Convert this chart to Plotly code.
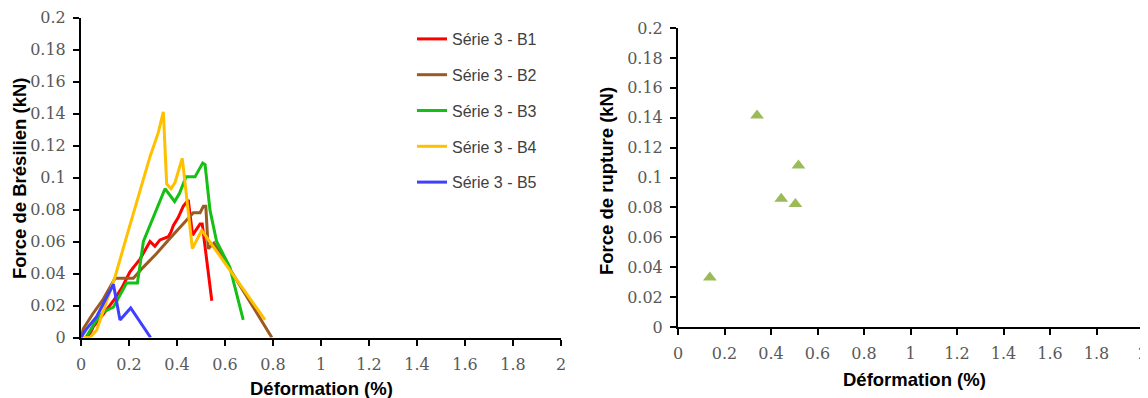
import plotly.graph_objects as go

# ---- data ----
series_names = ["Série 3 - B1", "Série 3 - B2", "Série 3 - B3", "Série 3 - B4", "Série 3 - B5"]
series_colors = ["#FF0000", "#9A5B22", "#14C014", "#FFC000", "#3F3FFF"]

b1_x = [0.03, 0.051, 0.09, 0.135, 0.17, 0.204, 0.246, 0.2875, 0.308, 0.329, 0.364, 0.375, 0.385, 0.405, 0.426, 0.447, 0.465, 0.496, 0.505, 0.545]
b1_y = [0, 0.0066, 0.014, 0.023, 0.031, 0.041, 0.049, 0.06, 0.057, 0.061, 0.063, 0.066, 0.070, 0.075, 0.082, 0.086, 0.064, 0.071, 0.071, 0.023]

b2_x = [0, 0.01, 0.05, 0.093, 0.142, 0.218, 0.26, 0.315, 0.371, 0.433, 0.468, 0.496, 0.51, 0.52, 0.53, 0.554, 0.795]
b2_y = [0, 0.0056, 0.015, 0.024, 0.037, 0.037, 0.044, 0.0525, 0.062, 0.072, 0.078, 0.078, 0.082, 0.082, 0.0556, 0.059, 0]

b3_x = [0.02, 0.065, 0.093, 0.135, 0.19, 0.235, 0.26, 0.35, 0.39, 0.41, 0.4375, 0.475, 0.507, 0.517, 0.5375, 0.565, 0.62, 0.676]
b3_y = [0, 0.011, 0.016, 0.019, 0.034, 0.034, 0.06, 0.093, 0.085, 0.09, 0.1004, 0.1004, 0.109, 0.108, 0.0796, 0.06, 0.044, 0.011]

b4_x = [0, 0.037, 0.065, 0.1, 0.142, 0.19, 0.232, 0.2875, 0.322, 0.343, 0.357, 0.375, 0.392, 0.422, 0.464, 0.503, 0.767]
b4_y = [0, 0, 0.0046, 0.02, 0.038, 0.063, 0.084, 0.113, 0.128, 0.141, 0.096, 0.093, 0.097, 0.112, 0.0556, 0.067, 0.011]

b5_x = [0, 0.024, 0.065, 0.107, 0.135, 0.1625, 0.207, 0.29]
b5_y = [0, 0.0056, 0.013, 0.025, 0.0333, 0.011, 0.0185, 0]

rupture_x = [0.137, 0.34, 0.444, 0.505, 0.518]
rupture_y = [0.0331, 0.1414, 0.0858, 0.0822, 0.108]

x_ticks = [0, 0.2, 0.4, 0.6, 0.8, 1, 1.2, 1.4, 1.6, 1.8, 2]
y_ticks = [0, 0.02, 0.04, 0.06, 0.08, 0.1, 0.12, 0.14, 0.16, 0.18, 0.2]

W, H = 1148, 398
OFF = 8  # page body margin offset


def px(p):
    return (p - OFF) / W


def py(p):
    return (H - (p - OFF)) / H


fig = go.Figure()

all_x = [b1_x, b2_x, b3_x, b4_x, b5_x]
all_y = [b1_y, b2_y, b3_y, b4_y, b5_y]
for nm, col, xs, ys in zip(series_names, series_colors, all_x, all_y):
    fig.add_trace(go.Scatter(x=xs, y=ys, mode="lines", name=nm, legendgroup=nm,
                             line=dict(color=col, width=3), xaxis="x", yaxis="y"))

fig.add_trace(go.Scatter(x=rupture_x, y=rupture_y, mode="markers", showlegend=False,
                         marker=dict(symbol="triangle-up", size=12, color="#9BBB59"),
                         xaxis="x2", yaxis="y2"))

tickfont = dict(family="DejaVu Serif", size=16, color="#595959")
common_x = dict(range=[0, 2], tickvals=x_ticks, ticktext=[str(t) for t in x_ticks],
                showline=True, linecolor="black", linewidth=2, ticks="outside",
                ticklen=6, tickwidth=2, tickcolor="black", showgrid=False,
                zeroline=False, tickfont=tickfont, fixedrange=True, automargin=False,
                ticklabelstandoff=5)
common_y = dict(range=[0, 0.2], tickvals=y_ticks, ticktext=[str(t) for t in y_ticks],
                showline=True, linecolor="black", linewidth=2, ticks="outside",
                ticklen=6, tickwidth=2, tickcolor="black", showgrid=False,
                zeroline=False, tickfont=tickfont, fixedrange=True, automargin=False,
                ticklabelstandoff=4)

fig.update_layout(
    width=W, height=H, margin=dict(l=0, r=0, t=0, b=0, autoexpand=False),
    paper_bgcolor="white", plot_bgcolor="white",
    xaxis=dict(domain=[px(81), px(561)], anchor="y", **common_x),
    yaxis=dict(domain=[py(337.5), py(17.5)], anchor="x", **common_y),
    xaxis2=dict(domain=[px(678), px(1143)], anchor="y2", **common_x),
    yaxis2=dict(domain=[py(327), py(28)], anchor="x2", **common_y),
    legend=dict(x=px(412), y=py(22), xanchor="left", yanchor="top",
                font=dict(family="Liberation Sans", size=16, color="#404040"),
                bgcolor="rgba(0,0,0,0)", traceorder="grouped", tracegroupgap=12),
    showlegend=True,
)

title_font = dict(family="Liberation Sans", size=18.5, color="black")
fig.add_annotation(text="<b>Force de Brésilien (kN)</b>", x=px(20), y=py(178),
                   xanchor="center", yanchor="middle",
                   xref="paper", yref="paper", textangle=-90, showarrow=False, font=title_font)
fig.add_annotation(text="<b>Déformation (%)</b>", x=px(321), y=py(388),
                   xanchor="center", yanchor="middle",
                   xref="paper", yref="paper", showarrow=False, font=title_font)
fig.add_annotation(text="<b>Force de rupture (kN)</b>", x=px(606), y=py(181),
                   xanchor="center", yanchor="middle",
                   xref="paper", yref="paper", textangle=-90, showarrow=False, font=title_font)
fig.add_annotation(text="<b>Déformation (%)</b>", x=px(914), y=py(379),
                   xanchor="center", yanchor="middle",
                   xref="paper", yref="paper", showarrow=False, font=title_font)

fig.write_html("out.html")
